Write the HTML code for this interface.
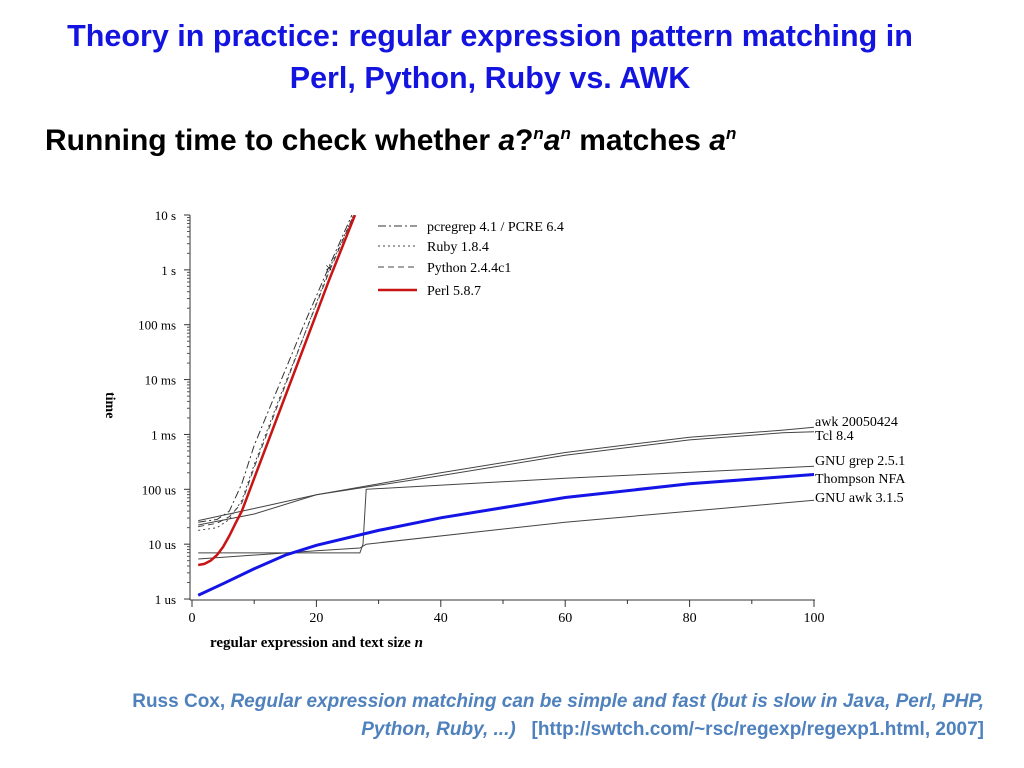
<!DOCTYPE html>
<html><head><meta charset="utf-8"><style>
body{margin:0;width:1024px;height:768px;background:#fff;overflow:hidden;font-family:"Liberation Sans",sans-serif;position:relative}
.t{position:absolute;left:0;width:980px;text-align:center;color:#1414e0;font-weight:bold;font-size:30.5px;line-height:42px;white-space:nowrap}
</style></head><body>
<div class="t" style="top:15px">Theory in practice: regular expression pattern matching in<br>Perl, Python, Ruby vs. AWK</div>
<div style="position:absolute;left:45px;top:124px;font-size:30px;font-weight:bold;color:#000;white-space:nowrap">Running time to check whether <i>a</i>?<sup style="font-size:17px"><i>n</i></sup><i>a</i><sup style="font-size:17px"><i>n</i></sup> matches <i>a</i><sup style="font-size:17px"><i>n</i></sup></div>
<svg id="c" width="1024" height="768" style="position:absolute;left:0;top:0" font-family="Liberation Serif, serif"></svg>
<div style="position:absolute;right:40px;top:688px;width:950px;text-align:right;font-size:19px;font-weight:bold;line-height:28px;color:#4f81bd;white-space:nowrap">Russ Cox, <i>Regular expression matching can be simple and fast (but is slow in Java, Perl, PHP,</i><br><i>Python, Ruby, ...)</i> &nbsp;&nbsp;[http://swtch.com/~rsc/regexp/regexp1.html, 2007]</div>
<script>
// values: n and log10(seconds)
const perlN=[1,2,3,4,5,6,7,8,10,14,18,22,26.2];
const perlV=[-5.38,-5.36,-5.3,-5.2,-5.05,-4.85,-4.62,-4.4,-3.8,-2.6,-1.4,-0.2,1];
const pcreN=[1,4,6,8,10,14,18,22,25.7];
const pcreV=[-4.6,-4.55,-4.4,-3.9,-3.2,-2.1,-1.0,0.05,1];
const rubyN=[1,4,6,8,10,14,18,22,26];
const rubyV=[-4.75,-4.7,-4.55,-4.2,-3.55,-2.35,-1.2,0.0,1];
const pyN=[1,4,6,8,10,14,18,22,26];
const pyV=[-4.68,-4.62,-4.5,-4.25,-3.6,-2.4,-1.2,-0.05,1];
const awkN=[1,10,20,40,60,80,95,100];
const awkV=[-4.57,-4.35,-4.1,-3.7,-3.33,-3.05,-2.92,-2.87];
const tclN=[1,10,20,40,60,80,95,100];
const tclV=[-4.65,-4.45,-4.1,-3.75,-3.38,-3.1,-2.97,-2.95];
const grepN=[1,27,27.5,28,60,100];
const grepV=[-5.16,-5.16,-5.0,-4.0,-3.8,-3.58];
const gawkN=[1,20,27,28,60,100];
const gawkV=[-5.27,-5.12,-5.07,-5.0,-4.6,-4.2];
const nfaN=[1,2,5,10,15,20,30,40,60,80,100];
const nfaV=[-5.93,-5.88,-5.72,-5.45,-5.2,-5.02,-4.75,-4.52,-4.15,-3.9,-3.73];
const xTicks=[0,20,40,60,80,100];
const yLabels=["10 s","1 s","100 ms","10 ms","1 ms","100 us","10 us","1 us"];
const yVals=[1,0,-1,-2,-3,-4,-5,-6];
const sx=n=>192+n*6.22, sy=v=>215+(1-v)*54.86;
const svg=document.getElementById('c');const NS='http://www.w3.org/2000/svg';
function mk(t,a,txt){const e=document.createElementNS(NS,t);for(const k in a)e.setAttribute(k,a[k]);if(txt!==undefined)e.textContent=txt;svg.appendChild(e);return e;}
let e=mk('line',{x1:190,y1:215,x2:190,y2:600,stroke:'#333'});

e=mk('line',{x1:190,y1:600,x2:815,y2:600,stroke:'#333'});

yVals.forEach((v,i)=>{const y=sy(v);mk('line',{x1:184,y1:y,x2:190,y2:y,stroke:'#333'});
 e=mk('text',{x:176,y:y+5,'text-anchor':'end','font-size':13},yLabels[i]);
 
 if(i<yVals.length-1)for(let m=2;m<10;m++){const yy=sy(v-1+Math.log10(m));mk('line',{x1:187,y1:yy,x2:190,y2:yy,stroke:'#555'});}});
for(let n=0;n<=100;n+=10)mk('line',{x1:sx(n),y1:600,x2:sx(n),y2:n%20?604:607,stroke:'#333'});
xTicks.forEach(n=>{e=mk('text',{x:sx(n),y:622,'text-anchor':'middle','font-size':14},String(n));
 });
e=mk('text',{x:210,y:647,'font-size':15,'font-weight':'bold'},'regular expression and text size ');

const ts=document.createElementNS(NS,'tspan');ts.setAttribute('font-style','italic');ts.textContent='n';e.appendChild(ts);
e=mk('text',{x:0,y:0,'font-size':14,'font-weight':'bold',transform:'translate(106,392) rotate(90)'},'time');

const clip=mk('clipPath',{id:'cp'});const r=document.createElementNS(NS,'rect');
r.setAttribute('x',190);r.setAttribute('y',215);r.setAttribute('width',630);r.setAttribute('height',385);clip.appendChild(r);
function series(N,V,st,name){const d=N.map((n,i)=>(i?'L':'M')+sx(n).toFixed(1)+','+sy(V[i]).toFixed(1)).join('');
 const p=mk('path',Object.assign({d:d,fill:'none','clip-path':'url(#cp)'},st));
 }
const thin={stroke:'#444','stroke-width':1};
series(awkN,awkV,thin,'line-awk');
series(tclN,tclV,thin,'line-tcl');
series(grepN,grepV,thin,'line-gnu-grep');
series(gawkN,gawkV,thin,'line-gnu-awk');
series(pcreN,pcreV,{stroke:'#333','stroke-width':1,'stroke-dasharray':'8,3,2,3'},'line-pcregrep');
series(rubyN,rubyV,{stroke:'#444','stroke-width':1,'stroke-dasharray':'2,3'},'line-ruby');
series(pyN,pyV,{stroke:'#444','stroke-width':1,'stroke-dasharray':'6,4'},'line-python');
series(perlN,perlV,{stroke:'#c81414','stroke-width':2.5},'line-perl');
series(nfaN,nfaV,{stroke:'#1414e6','stroke-width':3},'line-thompson-nfa');
e=mk('text',{x:sx(22),y:sy(0.05)+5,'text-anchor':'middle','font-size':13},'×');

const leg=[['pcregrep 4.1 / PCRE 6.4',{stroke:'#333','stroke-dasharray':'8,3,2,3'}],['Ruby 1.8.4',{stroke:'#444','stroke-dasharray':'2,3'}],['Python 2.4.4c1',{stroke:'#444','stroke-dasharray':'6,4'}],['Perl 5.8.7',{stroke:'#c81414','stroke-width':2.5}]];
const ly=[226,246,267,290];
leg.forEach((l,i)=>{e=mk('line',Object.assign({x1:378,y1:ly[i],x2:417,y2:ly[i]},l[1]));
 
 e=mk('text',{x:427,y:ly[i]+5,'font-size':14},l[0]);
 });
const lab=[['awk 20050424',427],['Tcl 8.4',441],['GNU grep 2.5.1',466],['Thompson NFA',484],['GNU awk 3.1.5',503]];
lab.forEach(l=>{e=mk('text',{x:815,y:l[1]-1,'font-size':14},l[0]);
 });
</script>
</body></html>
